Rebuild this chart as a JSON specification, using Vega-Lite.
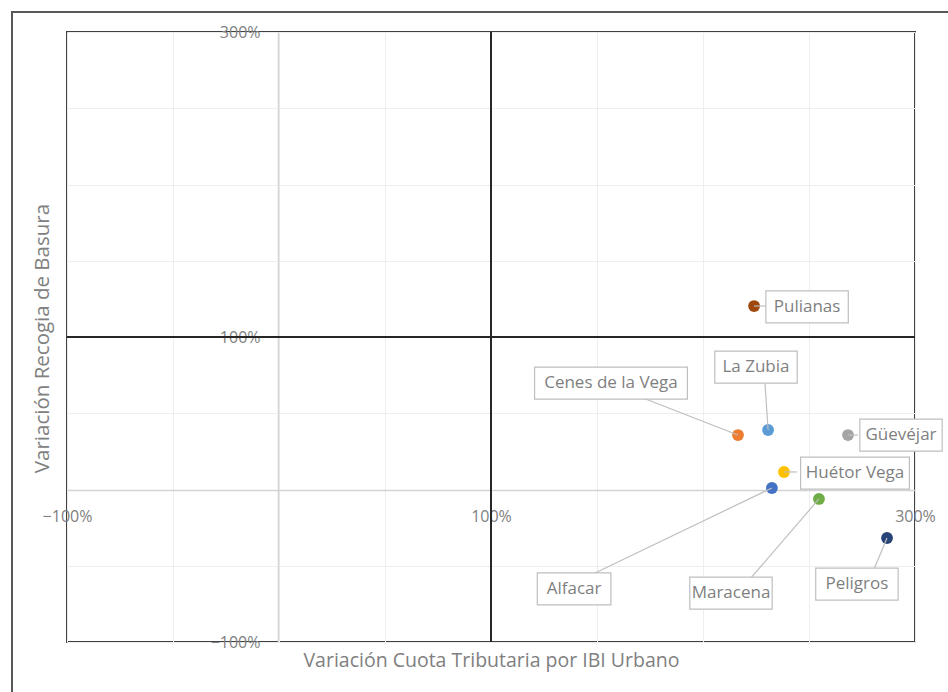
{
  "$schema": "https://vega.github.io/schema/vega-lite/v6.json",
  "width": 848,
  "height": 610,
  "autosize": "none",
  "padding": {"left": 67, "top": 32, "right": 33, "bottom": 50},
  "background": "white",
  "config": {
    "view": {"stroke": "#404040", "strokeWidth": 2},
    "font": "Open Sans"
  },
  "datasets": {
    "pts": [
      {"name": "Alfacar", "x": 2.325, "y": 0.010, "lx": 1.392, "ly": -0.652, "ax": 1.481, "ay": -0.554},
      {"name": "Cenes de la Vega", "x": 2.165, "y": 0.357, "lx": 1.566, "ly": 0.698, "ax": 1.717, "ay": 0.600},
      {"name": "Güevéjar", "x": 2.684, "y": 0.357, "lx": 2.934, "ly": 0.357, "ax": 2.731, "ay": 0.357},
      {"name": "Huétor Vega", "x": 2.382, "y": 0.115, "lx": 2.717, "ly": 0.108, "ax": 2.443, "ay": 0.115},
      {"name": "La Zubia", "x": 2.307, "y": 0.390, "lx": 2.250, "ly": 0.803, "ax": 2.292, "ay": 0.705},
      {"name": "Maracena", "x": 2.547, "y": -0.062, "lx": 2.132, "ly": -0.679, "ax": 2.226, "ay": -0.580},
      {"name": "Peligros", "x": 2.868, "y": -0.318, "lx": 2.726, "ly": -0.620, "ax": 2.807, "ay": -0.521},
      {"name": "Pulianas", "x": 2.241, "y": 1.203, "lx": 2.491, "ly": 1.197, "ax": 2.297, "ay": 1.203}
    ]
  },
  "data": {"name": "pts"},
  "layer": [
    {
      "mark": {"type": "rect", "fillOpacity": 0, "stroke": "#595959", "strokeWidth": 1.5, "clip": false},
      "encoding": {
        "x": {"datum": -1.26, "type": "quantitative",
          "scale": {"domain": [-1, 3], "nice": false, "zero": false},
          "axis": {
            "values": [-1, -0.5, 0, 0.5, 1, 1.5, 2, 2.5, 3],
            "format": ".0%",
            "labelExpr": "indexof([-1,1,3], datum.value) >= 0 ? datum.label : ''",
            "offset": -152,
            "ticks": false,
            "domainColor": "#d4d4d4",
            "domainWidth": 1.5,
            "grid": true,
            "gridColor": "#eeeeee",
            "gridWidth": 1,
            "labelPadding": 18,
            "labelColor": "#808080",
            "labelFontSize": 16,
            "labelFont": "Open Sans",
            "labelOverlap": false,
            "labelFlush": false,
            "title": "Variación Cuota Tributaria por IBI Urbano",
            "titleColor": "#808080",
            "titleFont": "Open Sans",
            "titleFontSize": 19.5,
            "titleFontWeight": "normal",
            "titleX": 424,
            "titleY": 170,
            "titleAlign": "center",
            "titleBaseline": "middle"
          }
        },
        "x2": {"datum": 3.4},
        "y": {"datum": 3.13, "type": "quantitative",
          "scale": {"domain": [-1, 3], "nice": false, "zero": false},
          "axis": {
            "values": [-1, -0.5, 0, 0.5, 1, 1.5, 2, 2.5, 3],
            "format": ".0%",
            "labelExpr": "indexof([-1,1,3], datum.value) >= 0 ? datum.label : ''",
            "offset": -211,
            "ticks": false,
            "domainColor": "#d4d4d4",
            "domainWidth": 1.5,
            "grid": true,
            "gridColor": "#eeeeee",
            "gridWidth": 1,
            "labelPadding": 18,
            "labelColor": "#808080",
            "labelFontSize": 16,
            "labelFont": "Open Sans",
            "labelOverlap": false,
            "labelFlush": false,
            "title": "Variación Recogia de Basura",
            "titleColor": "#808080",
            "titleFont": "Open Sans",
            "titleFontSize": 20.5,
            "titleFontWeight": "normal",
            "titleAngle": -90,
            "titleX": -236,
            "titleY": 306,
            "titleAlign": "center",
            "titleBaseline": "middle"
          }
        },
        "y2": {"datum": -1.5}
      }
    },
    {
      "mark": {"type": "rule", "color": "#262626", "strokeWidth": 2},
      "encoding": {"x": {"datum": 1, "type": "quantitative"}}
    },
    {
      "mark": {"type": "rule", "color": "#262626", "strokeWidth": 2},
      "encoding": {"y": {"datum": 1, "type": "quantitative"}}
    },
    {
      "mark": {"type": "circle", "size": 140, "opacity": 1},
      "encoding": {
        "x": {"field": "x", "type": "quantitative"},
        "y": {"field": "y", "type": "quantitative"},
        "color": {"field": "name", "type": "nominal", "legend": null,
          "scale": {
            "domain": ["Alfacar", "Cenes de la Vega", "Güevéjar", "Huétor Vega", "La Zubia", "Maracena", "Peligros", "Pulianas"],
            "range": ["#4472c4", "#ed7d31", "#a5a5a5", "#ffc000", "#5b9bd5", "#70ad47", "#264478", "#9e480e"]
          }
        }
      }
    },
    {
      "mark": {"type": "rule", "color": "#bfbfbf", "strokeWidth": 1.2},
      "encoding": {
        "x": {"field": "x", "type": "quantitative"},
        "y": {"field": "y", "type": "quantitative"},
        "x2": {"field": "ax"},
        "y2": {"field": "ay"}
      }
    },
    {
      "mark": {"type": "rect", "fill": "white", "stroke": "#bfbfbf", "strokeWidth": 1.2, "height": 32, "clip": false,
        "width": {"expr": "length(datum.name) * 8.8 + 12"}},
      "encoding": {
        "x": {"field": "lx", "type": "quantitative"},
        "y": {"field": "ly", "type": "quantitative"}
      }
    },
    {
      "mark": {"type": "text", "font": "Open Sans", "fontSize": 17, "color": "#7f7f7f", "align": "center", "baseline": "middle"},
      "encoding": {
        "x": {"field": "lx", "type": "quantitative"},
        "y": {"field": "ly", "type": "quantitative"},
        "text": {"field": "name"}
      }
    }
  ]
}
